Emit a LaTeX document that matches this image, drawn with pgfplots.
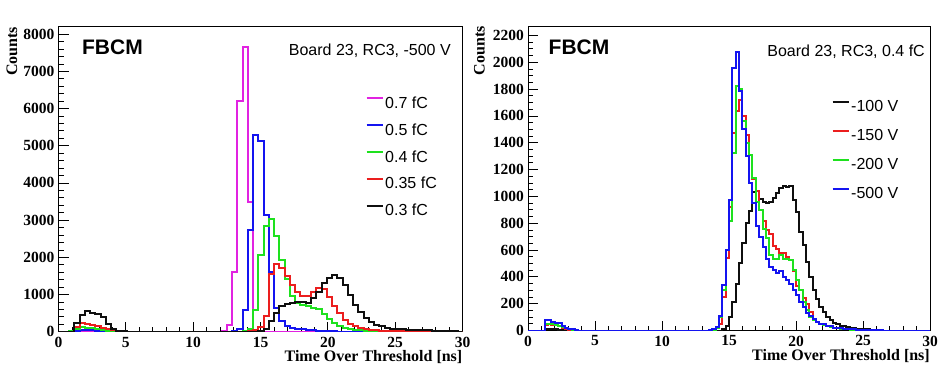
\documentclass[border=0pt]{standalone}
\usepackage{pgfplots}
\pgfplotsset{compat=1.18}
\usepackage{fontspec}
\setmainfont{Liberation Serif}
\setsansfont{Liberation Sans}
\definecolor{rmag}{RGB}{225,35,225}
\definecolor{rblue}{RGB}{20,20,240}
\definecolor{rgreen}{RGB}{30,225,30}
\definecolor{rred}{RGB}{235,30,30}
\definecolor{rblack}{RGB}{15,15,15}
\pgfplotsset{
  rootaxis/.style={
    scale only axis,
    xmin=0, xmax=30,
    xtick={0,5,...,30},
    minor x tick num=4,
    tick align=inside,
    xtick pos=left, ytick pos=left,
    major tick length=10pt, minor tick length=5pt,
    every tick/.style={black, line width=0.7pt},
    axis line style={line width=0.8pt, black},
    scaled ticks=false,
    /pgf/number format/1000 sep={},
    /pgf/number format/assume math mode=true,
    tick label style={font=\bfseries\fontsize{15.5}{16}\selectfont},
    xticklabel style={inner sep=0pt, yshift=-5pt},
    yticklabel style={inner sep=0pt, xshift=-4pt},
    xlabel={Time Over Threshold [ns]},
    xlabel style={font=\bfseries\fontsize{16}{16}\selectfont, at={(axis description cs:1,-0.083)}, anchor=east, inner sep=0pt},
    ylabel={Counts},
    ylabel style={font=\bfseries\fontsize{16}{16}\selectfont, anchor=east, inner sep=0pt},
    legend cell align=left,
    legend image code/.code={\draw[##1, line width=2pt] (0pt,5.5pt) -- (16pt,5.5pt);},
    every axis plot/.append style={const plot mark left, line width=2pt, line join=miter},
  }
}
\begin{document}
\begin{tikzpicture}
\useasboundingbox (0,0) rectangle (947pt,383pt);
% ---------------- left panel ----------------
\begin{axis}[rootaxis,
  at={(58.5pt,51.3pt)}, anchor=south west,
  width=404pt, height=305pt,
  ymin=0, ymax=8200,
  ytick={0,1000,...,8000}, minor y tick num=4,
  ylabel style={at={(axis description cs:-0.115,1)}},
  legend style={at={(rel axis cs:0.760,0.777)}, anchor=north west, draw=none, fill=none,
    inner sep=0pt, font=\sffamily\fontsize{16}{16}\selectfont, row sep=8.8pt,
    nodes={inner sep=1.5pt, text height=12pt, text depth=3pt}},
]
\addplot[rmag] table[x expr=\thisrow{k}*0.390625, y=c] {
k c
0 0
31 30
32 170
33 1600
34 6190
35 7650
36 3500
37 40
38 0
76.8 0
};
\addlegendentry{0.7 fC}
\addplot[rblue] table[x expr=\thisrow{k}*0.390625, y=c] {
k c
0 0
3 30
4 55
5 50
6 40
7 25
8 15
9 5
10 0
33 10
34 60
35 580
36 2740
37 5300
38 5120
39 3150
40 1600
41 650
42 280
43 150
44 100
45 80
46 60
47 45
48 35
49 25
50 18
51 12
52 8
53 5
54 3
55 0
76.8 0
};
\addlegendentry{0.5 fC}
\addplot[rgreen] table[x expr=\thisrow{k}*0.390625, y=c] {
k c
0 0
2 10
3 60
4 120
5 110
6 90
7 70
8 40
9 20
10 8
11 0
35 20
36 80
37 580
38 2050
39 2830
40 3020
41 2560
42 1930
43 1430
44 960
45 780
46 720
47 690
48 640
49 600
50 470
51 340
52 240
53 160
54 100
55 70
56 50
57 35
58 25
59 15
60 10
61 5
62 0
76.8 0
};
\addlegendentry{0.4 fC}
\addplot[rred] table[x expr=\thisrow{k}*0.390625, y=c] {
k c
0 0
3 130
4 240
5 220
6 190
7 160
8 110
9 70
10 40
11 20
12 8
13 0
36 10
37 40
38 120
39 420
40 1550
41 1810
42 1700
43 1500
44 1250
45 1080
46 965
47 950
48 1070
49 1180
50 1140
51 930
52 680
53 490
54 320
55 220
56 155
57 105
58 75
59 55
60 40
61 30
62 22
63 16
64 12
65 8
66 6
67 4
68 0
76.8 0
};
\addlegendentry{0.35 fC}
\addplot[rblack] table[x expr=\thisrow{k}*0.390625, y=c] {
k c
0 0
3 240
4 445
5 550
6 510
7 470
8 390
9 200
10 80
11 30
12 10
13 0
38 20
39 80
40 300
41 500
42 680
43 740
44 780
45 800
46 790
47 760
48 900
49 1080
50 1300
51 1450
52 1520
53 1440
54 1250
55 980
56 720
57 520
58 370
59 265
60 175
61 140
62 100
63 85
64 70
65 60
66 55
67 50
68 45
69 40
70 35
71 30
72 25
73 20
74 15
75 10
76 5
76.8 0
};
\addlegendentry{0.3 fC}
\node[anchor=west, inner sep=0pt, font=\sffamily\bfseries\fontsize{21}{21}\selectfont] at (rel axis cs:0.058,0.932) {FBCM};
\node[anchor=east, inner sep=0pt, font=\sffamily\fontsize{16}{16}\selectfont] at (rel axis cs:0.9715,0.921) {Board 23, RC3, -500 V};
\end{axis}
% ---------------- right panel ----------------
\begin{axis}[rootaxis,
  at={(528pt,52.5pt)}, anchor=south west,
  width=402pt, height=304.5pt,
  ymin=0, ymax=2270,
  ytick={0,200,...,2200}, minor y tick num=3,
  ylabel style={at={(axis description cs:-0.121,1)}},
  legend style={at={(rel axis cs:0.755,0.763)}, anchor=north west, draw=none, fill=none,
    inner sep=0pt, font=\sffamily\fontsize{16}{16}\selectfont, row sep=10.9pt,
    nodes={inner sep=1.5pt, text height=12pt, text depth=3pt}},
]
\addplot[rblack] table {
x c
0 0
1.25 10
1.5 10
1.75 8
2.0 8
2.25 5
2.5 3
2.75 0
14.5 10
14.75 30
15.0 100
15.25 212
15.5 350
15.75 500
16.0 650
16.25 800
16.5 890
16.75 1035
17.0 960
17.25 978
17.5 960
17.75 948
18.0 960
18.25 985
18.5 1023
18.75 1060
19.0 1078
19.25 1070
19.5 1080
19.75 975
20.0 880
20.25 736
20.5 636
20.75 511
21.0 399
21.25 300
21.5 237
21.75 175
22.0 137
22.25 100
22.5 75
22.75 55
23.0 45
23.25 37
23.5 30
23.75 25
24.0 18
24.25 15
24.5 12
24.75 10
25.0 8
25.5 5
26.0 3
26.5 0
30 0
};
\addlegendentry{-100 V}
\addplot[rred] table {
x c
0 0
1.25 40
1.5 45
1.75 40
2.0 38
2.25 30
2.5 20
2.75 12
3.0 6
3.25 3
3.5 0
13.75 5
14.0 15
14.25 50
14.5 250
14.75 540
15.0 923
15.25 1472
15.5 1634
15.75 1722
16.0 1597
16.25 1460
16.5 1310
16.75 1130
17.0 1040
17.25 900
17.5 820
17.75 750
18.0 720
18.25 630
18.5 610
18.75 580
19.0 575
19.25 545
19.5 525
19.75 440
20.0 330
20.25 300
20.5 240
20.75 200
21.0 140
21.25 88
21.5 62
21.75 50
22.0 40
22.25 32
22.5 25
22.75 20
23.0 15
23.5 10
24.0 6
24.5 4
25.0 2
25.5 0
30 0
};
\addlegendentry{-150 V}
\addplot[rgreen] table {
x c
0 0
1.25 50
1.5 50
1.75 45
2.0 42
2.25 35
2.5 25
2.75 15
3.0 8
3.25 4
3.5 0
13.75 5
14.0 20
14.25 100
14.5 300
14.75 600
15.0 820
15.25 1320
15.5 1820
15.75 1800
16.0 1560
16.25 1400
16.5 1310
16.75 1140
17.0 960
17.25 900
17.5 760
17.75 690
18.0 560
18.25 535
18.5 535
18.75 560
19.0 535
19.25 535
19.5 525
19.75 450
20.0 375
20.25 300
20.5 212
20.75 150
21.0 100
21.25 80
21.5 62
21.75 50
22.0 42
22.25 35
22.5 28
22.75 22
23.0 18
23.25 14
23.5 10
24.0 6
24.5 3
25.0 0
30 0
};
\addlegendentry{-200 V}
\addplot[rblue] table {
x c
0 0
1.25 75
1.5 75
1.75 62
2.0 58
2.25 55
2.5 32
2.75 17
3.0 12
3.25 8
3.5 4
3.75 0
13.5 5
13.75 10
14.0 25
14.25 110
14.5 337
14.75 600
15.0 975
15.25 1960
15.5 2075
15.75 1785
16.0 1500
16.25 1300
16.5 1100
16.75 950
17.0 780
17.25 700
17.5 620
17.75 530
18.0 470
18.25 450
18.5 425
18.75 440
19.0 400
19.25 375
19.5 350
19.75 305
20.0 265
20.25 215
20.5 175
20.75 130
21.0 110
21.25 88
21.5 62
21.75 50
22.0 45
22.25 35
22.5 30
22.75 22
23.0 18
23.25 15
23.5 12
23.75 10
24.0 8
24.5 5
25.0 3
25.5 2
26.0 1
26.5 0
30 0
};
\addlegendentry{-500 V}
\node[anchor=west, inner sep=0pt, font=\sffamily\bfseries\fontsize{21}{21}\selectfont] at (rel axis cs:0.051,0.93) {FBCM};
\node[anchor=east, inner sep=0pt, font=\sffamily\fontsize{16}{16}\selectfont] at (rel axis cs:0.9876,0.915) {Board 23, RC3, 0.4 fC};
\end{axis}
\end{tikzpicture}
\end{document}
